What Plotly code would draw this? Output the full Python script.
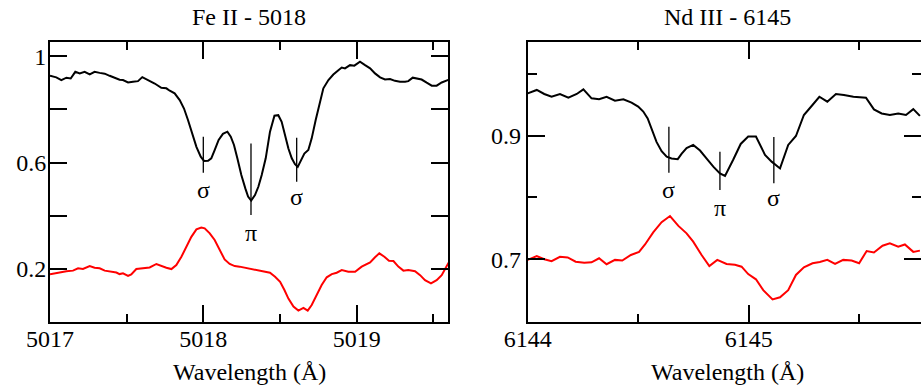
import plotly.graph_objects as go

# ---------------- data ----------------
fe_wave_i = [5017.0, 5017.041, 5017.074, 5017.107, 5017.135, 5017.165, 5017.194, 5017.226, 5017.259, 5017.291,
             5017.324, 5017.357, 5017.389, 5017.422, 5017.454, 5017.476, 5017.509, 5017.541, 5017.574, 5017.602,
             5017.639, 5017.683, 5017.726, 5017.759, 5017.781, 5017.813, 5017.846, 5017.874, 5017.900, 5017.926,
             5017.955, 5017.983, 5018.005, 5018.031, 5018.052, 5018.074, 5018.100, 5018.128, 5018.157, 5018.179,
             5018.200, 5018.222, 5018.248, 5018.274, 5018.292, 5018.312, 5018.337, 5018.359, 5018.381, 5018.407,
             5018.435, 5018.464, 5018.489, 5018.511, 5018.533, 5018.555, 5018.577, 5018.598, 5018.616, 5018.637,
             5018.659, 5018.685, 5018.707, 5018.733, 5018.755, 5018.783, 5018.816, 5018.848, 5018.881, 5018.903,
             5018.924, 5018.957, 5018.985, 5019.022, 5019.055, 5019.088, 5019.120, 5019.153, 5019.185, 5019.218,
             5019.250, 5019.283, 5019.316, 5019.337, 5019.366, 5019.398, 5019.424, 5019.457, 5019.490, 5019.522,
             5019.555, 5019.600]
fe_flux_i = [0.926, 0.920, 0.910, 0.919, 0.916, 0.941, 0.935, 0.941, 0.931, 0.941,
             0.937, 0.934, 0.926, 0.917, 0.911, 0.910, 0.901, 0.904, 0.906, 0.921,
             0.911, 0.897, 0.881, 0.879, 0.870, 0.860, 0.835, 0.803, 0.760, 0.710,
             0.659, 0.622, 0.606, 0.607, 0.616, 0.647, 0.685, 0.708, 0.716, 0.697,
             0.666, 0.616, 0.553, 0.503, 0.472, 0.457, 0.478, 0.509, 0.553, 0.616,
             0.716, 0.776, 0.778, 0.753, 0.703, 0.653, 0.616, 0.594, 0.584, 0.609,
             0.634, 0.647, 0.691, 0.760, 0.816, 0.879, 0.910, 0.931, 0.947, 0.957,
             0.954, 0.966, 0.964, 0.979, 0.966, 0.954, 0.935, 0.920, 0.912, 0.914,
             0.907, 0.904, 0.904, 0.906, 0.919, 0.916, 0.912, 0.900, 0.889, 0.889,
             0.901, 0.911]

fe_wave_v = [5017.0, 5017.041, 5017.074, 5017.107, 5017.150, 5017.183, 5017.215, 5017.259, 5017.291, 5017.324,
             5017.357, 5017.400, 5017.433, 5017.454, 5017.476, 5017.509, 5017.530, 5017.563, 5017.607, 5017.650,
             5017.694, 5017.726, 5017.759, 5017.792, 5017.824, 5017.857, 5017.890, 5017.922, 5017.955, 5017.987,
             5018.009, 5018.042, 5018.074, 5018.107, 5018.139, 5018.172, 5018.205, 5018.237, 5018.272, 5018.315,
             5018.359, 5018.403, 5018.435, 5018.468, 5018.501, 5018.529, 5018.555, 5018.588, 5018.620, 5018.653,
             5018.681, 5018.707, 5018.740, 5018.772, 5018.805, 5018.838, 5018.870, 5018.903, 5018.946, 5018.990,
             5019.033, 5019.088, 5019.120, 5019.148, 5019.181, 5019.211, 5019.240, 5019.272, 5019.305, 5019.337,
             5019.381, 5019.414, 5019.446, 5019.485, 5019.522, 5019.555, 5019.577, 5019.600]
fe_flux_v = [0.180, 0.184, 0.190, 0.192, 0.194, 0.203, 0.200, 0.211, 0.205, 0.203,
             0.194, 0.190, 0.187, 0.181, 0.184, 0.174, 0.180, 0.200, 0.203, 0.206,
             0.219, 0.211, 0.205, 0.200, 0.215, 0.246, 0.284, 0.321, 0.349, 0.356,
             0.353, 0.334, 0.309, 0.271, 0.236, 0.219, 0.211, 0.209, 0.205, 0.201,
             0.196, 0.192, 0.186, 0.171, 0.152, 0.121, 0.089, 0.059, 0.044, 0.054,
             0.044, 0.065, 0.103, 0.140, 0.169, 0.181, 0.186, 0.196, 0.190, 0.190,
             0.209, 0.225, 0.244, 0.259, 0.246, 0.231, 0.230, 0.209, 0.194, 0.196,
             0.192, 0.177, 0.158, 0.146, 0.158, 0.177, 0.200, 0.224]

nd_wave_i = [6144.000, 6144.041, 6144.075, 6144.108, 6144.146, 6144.184, 6144.222, 6144.252, 6144.289, 6144.323,
             6144.357, 6144.395, 6144.433, 6144.470, 6144.500, 6144.523, 6144.543, 6144.564, 6144.583, 6144.606,
             6144.629, 6144.651, 6144.679, 6144.697, 6144.719, 6144.749, 6144.780, 6144.810, 6144.840, 6144.870,
             6144.893, 6144.930, 6144.964, 6144.998, 6145.033, 6145.074, 6145.104, 6145.142, 6145.179, 6145.214,
             6145.250, 6145.285, 6145.320, 6145.356, 6145.395, 6145.431, 6145.474, 6145.531, 6145.567, 6145.602,
             6145.639, 6145.677, 6145.712, 6145.745, 6145.775]
nd_flux_i = [0.9685, 0.974, 0.9675, 0.963, 0.9675, 0.9615, 0.9675, 0.975, 0.9605, 0.959,
             0.963, 0.9567, 0.959, 0.9535, 0.947, 0.939, 0.928, 0.909, 0.890, 0.875,
             0.866, 0.863, 0.862, 0.871, 0.880, 0.885, 0.876, 0.863, 0.850, 0.839,
             0.835, 0.861, 0.8866, 0.8985, 0.8985, 0.869, 0.858, 0.847, 0.885, 0.8995,
             0.9335, 0.948, 0.963, 0.955, 0.9675, 0.966, 0.963, 0.9615, 0.9425, 0.936,
             0.9335, 0.936, 0.9335, 0.943, 0.932]

nd_wave_v = [6144.000, 6144.041, 6144.075, 6144.108, 6144.146, 6144.181, 6144.217, 6144.256, 6144.289, 6144.323,
             6144.357, 6144.395, 6144.428, 6144.467, 6144.504, 6144.531, 6144.568, 6144.606, 6144.644, 6144.682,
             6144.719, 6144.749, 6144.787, 6144.822, 6144.858, 6144.900, 6144.938, 6144.968, 6144.998, 6145.033,
             6145.066, 6145.108, 6145.142, 6145.179, 6145.214, 6145.250, 6145.289, 6145.322, 6145.356, 6145.391,
             6145.428, 6145.466, 6145.500, 6145.534, 6145.567, 6145.606, 6145.639, 6145.677, 6145.707, 6145.745,
             6145.775]
nd_flux_v = [0.699, 0.705, 0.700, 0.697, 0.704, 0.703, 0.696, 0.6945, 0.695, 0.7016,
             0.692, 0.699, 0.698, 0.707, 0.712, 0.724, 0.7436, 0.760, 0.770, 0.754,
             0.742, 0.7285, 0.707, 0.689, 0.699, 0.6924, 0.691, 0.688, 0.676, 0.6676,
             0.650, 0.635, 0.6385, 0.650, 0.6746, 0.687, 0.6935, 0.6956, 0.699, 0.6924,
             0.699, 0.698, 0.6935, 0.7134, 0.711, 0.722, 0.726, 0.7205, 0.724, 0.712,
             0.714]

# Zeeman component markers: wavelength, top, bottom, label, label y
fe_comp_wave = [5018.00, 5018.311, 5018.609]
fe_comp_top = [0.697, 0.672, 0.693]
fe_comp_bot = [0.562, 0.403, 0.528]
fe_comp_label = ["σ", "π", "σ"]
fe_comp_label_y = [0.497, 0.334, 0.472]

nd_comp_wave = [6144.639, 6144.870, 6145.114]
nd_comp_top = [0.9146, 0.874, 0.898]
nd_comp_bot = [0.840, 0.812, 0.823]
nd_comp_label = ["σ", "π", "σ"]
nd_comp_label_y = [0.812, 0.7825, 0.799]

panel_titles = ["Fe II - 5018", "Nd III - 6145"]
x_title = "Wavelength (Å)"

FONT = "Liberation Serif, Times New Roman, DejaVu Serif, serif"
W, H = 921, 387

# ---------------- figure ----------------
fig = go.Figure()


def seg(xs, tops, bots):
    X, Y = [], []
    for x, t, b in zip(xs, tops, bots):
        X += [x, x, None]
        Y += [t, b, None]
    return X, Y


line_kw = dict(mode="lines", showlegend=False, hoverinfo="skip")
fig.add_trace(go.Scatter(x=fe_wave_i, y=fe_flux_i, line=dict(color="black", width=2), xaxis="x", yaxis="y", **line_kw))
fig.add_trace(go.Scatter(x=fe_wave_v, y=fe_flux_v, line=dict(color="#ff0000", width=2), xaxis="x", yaxis="y", **line_kw))
sx, sy = seg(fe_comp_wave, fe_comp_top, fe_comp_bot)
fig.add_trace(go.Scatter(x=sx, y=sy, line=dict(color="black", width=1.3), xaxis="x", yaxis="y", **line_kw))

fig.add_trace(go.Scatter(x=nd_wave_i, y=nd_flux_i, line=dict(color="black", width=2), xaxis="x2", yaxis="y2", **line_kw))
fig.add_trace(go.Scatter(x=nd_wave_v, y=nd_flux_v, line=dict(color="#ff0000", width=2), xaxis="x2", yaxis="y2", **line_kw))
sx, sy = seg(nd_comp_wave, nd_comp_top, nd_comp_bot)
fig.add_trace(go.Scatter(x=sx, y=sy, line=dict(color="black", width=1.3), xaxis="x2", yaxis="y2", **line_kw))
# empty trace to host the right-hand tick axis of the second panel
fig.add_trace(go.Scatter(x=[None], y=[None], xaxis="x2", yaxis="y3", **line_kw))

tickfont = dict(family=FONT, size=24, color="black")
ax_common = dict(showgrid=False, zeroline=False, ticks="inside", tickcolor="black", automargin=False,
                 linecolor="black", linewidth=2, tickwidth=1.5, tickfont=tickfont)

y_top = 1 - 42 / H
y_bot = 1 - 322 / H
dom1 = [50 / W, 448 / W]
dom2 = [527.7 / W, 1.0]

fig.update_layout(
    template="none",
    width=W, height=H, margin=dict(l=0, r=0, t=0, b=0, autoexpand=False),
    paper_bgcolor="white", plot_bgcolor="white",
    font=dict(family=FONT, size=24, color="black"),
    xaxis=dict(domain=dom1, anchor="y", range=[5017, 5019.596], showline=True, mirror="ticks",
               tickvals=[5017, 5018, 5019], ticklen=17, ticklabelstandoff=-6,
               minor=dict(tickvals=[5017.5, 5018.5, 5019.5], ticklen=8, ticks="inside",
                          tickcolor="black", tickwidth=1.5),
               **ax_common),
    yaxis=dict(domain=[y_bot, y_top], anchor="x", range=[0.001, 1.053], showline=True, mirror="ticks",
               tickvals=[0.2, 0.4, 0.6, 0.8, 1.0], ticktext=["0.2", "", "0.6", "", "1"], ticklen=17,
               ticklabelstandoff=-3,
               **ax_common),
    xaxis2=dict(domain=dom2, anchor="y2", range=[6144, 6145.78], showline=True, mirror="ticks",
                tickvals=[6144, 6145], ticklen=17, ticklabelstandoff=-6,
                minor=dict(tickvals=[6144.5, 6145.5], ticklen=8, ticks="inside",
                           tickcolor="black", tickwidth=1.5),
                **ax_common),
    yaxis2=dict(domain=[y_bot, y_top], anchor="x2", range=[0.5985, 1.0516], showline=True, mirror=False,
                tickvals=[0.7, 0.9], ticklen=17,
                minor=dict(tickvals=[0.8, 1.0], ticklen=9, ticks="inside",
                           tickcolor="black", tickwidth=1.5),
                **ax_common),
    yaxis3=dict(overlaying="y2", anchor="x2", side="right", range=[0.5985, 1.0516], showline=False,
                showticklabels=False, tickvals=[0.7, 0.9], ticklen=17,
                minor=dict(tickvals=[0.8, 1.0], ticklen=9, ticks="inside",
                           tickcolor="black", tickwidth=1.5),
                **ax_common),
)

ann = []
for x, y, t in zip(fe_comp_wave, fe_comp_label_y, fe_comp_label):
    ann.append(dict(x=x, y=y, xref="x", yref="y", text=t, showarrow=False,
                    font=dict(family=FONT, size=24, color="black"), xanchor="center", yanchor="middle"))
for x, y, t in zip(nd_comp_wave, nd_comp_label_y, nd_comp_label):
    ann.append(dict(x=x, y=y, xref="x2", yref="y2", text=t, showarrow=False,
                    font=dict(family=FONT, size=24, color="black"), xanchor="center", yanchor="middle"))

centers = [249 / W, 727 / W]
for cx, t in zip(centers, panel_titles):
    ann.append(dict(x=cx, y=1 - 17 / H, xref="paper", yref="paper", text=t, showarrow=False,
                    font=dict(family=FONT, size=24, color="black"), xanchor="center", yanchor="middle"))
    ann.append(dict(x=cx, y=1 - 372 / H, xref="paper", yref="paper", text=x_title, showarrow=False,
                    font=dict(family=FONT, size=24, color="black"), xanchor="center", yanchor="middle"))
fig.update_layout(annotations=ann)

fig.write_html("out.html")
